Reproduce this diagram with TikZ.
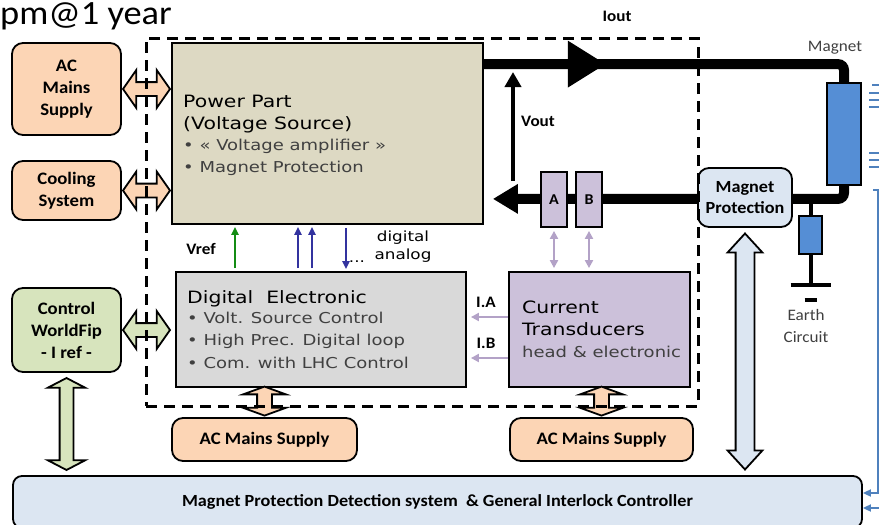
\documentclass[tikz,border=0pt]{standalone}
\usepackage{fontspec}
\setmainfont{Carlito}[FakeStretch=1.07]
\newfontfamily\verd{DejaVu Sans}[FakeStretch=1.2]
\usetikzlibrary{shapes.arrows,arrows.meta,calc,positioning,decorations.markings,backgrounds}

\definecolor{peach}{HTML}{FCD5B5}
\definecolor{pwrtan}{HTML}{DDD9C3}
\definecolor{digigray}{HTML}{D9D9D9}
\definecolor{ctlilac}{HTML}{CCC1DA}
\definecolor{ctrlgreen}{HTML}{D7E4BD}
\definecolor{protblue}{HTML}{DCE6F2}
\definecolor{coilblue}{HTML}{558ED5}
\definecolor{lavarrow}{HTML}{B3A2C7}
\definecolor{sigblue}{HTML}{33339F}
\definecolor{sigreen}{HTML}{148C14}
\definecolor{edgeblue}{HTML}{4F81BD}
\definecolor{bullgray}{HTML}{404040}

\tikzset{
    box/.style={draw, line width=1.8pt, inner sep=0pt},
    sidebox/.style={box, rounded corners=11pt, align=center, font=\bfseries\fontsize{17.5}{22}\selectfont},
    boxhead/.style={anchor=north west, inner sep=0pt, align=left, font=\verd\fontsize{17}{22}\selectfont},
    boxlist/.style={boxhead, text=bullgray, font=\verd\fontsize{15}{22}\selectfont},
    sigtag/.style={inner sep=0pt, font=\bfseries\fontsize{16}{18}\selectfont},
    plain/.style={inner sep=0pt, align=center, text=bullgray, font=\fontsize{16}{22}\selectfont},
    blockarr/.style={double arrow, draw, line width=1.8pt},
    convframe/.style={draw, line width=3pt, dash pattern=on 11pt off 7pt, inner sep=0pt},
    powerline/.style={line width=10pt},
    wire/.style={line width=4pt},
    sig/.style={line width=2.4pt, -{Triangle[length=8pt,width=7pt]}, shorten <=3pt, shorten >=2pt},
    lav/.style={line width=2.4pt, lavarrow, {Triangle[length=8pt,width=8pt]}-{Triangle[length=8pt,width=8pt]}, shorten <=3pt, shorten >=3pt},
    lavone/.style={line width=2.4pt, lavarrow, -{Triangle[length=8pt,width=8pt]}, shorten >=4pt},
    edgeline/.style={line width=1.8pt, edgeblue}
}

\begin{document}
\begin{tikzpicture}[x=1pt, y=-1pt]
  \useasboundingbox (0,0) rectangle (879,525);

  \node[anchor=base west, inner sep=0pt, font=\fontsize{34}{36}\selectfont] (year) at (0,24) {pm@1 year};

  % converter blocks
  \node[box, fill=pwrtan, minimum width=311pt, minimum height=181pt] (power) at (327.5,133.5) {};
  \node[box, fill=digigray, minimum width=290pt, minimum height=115pt] (digital) at (321,329.5) {};
  \node[box, fill=ctlilac, minimum width=181pt, minimum height=115pt] (transd) at (599.5,329.5) {};

  \node[boxhead] (powertxt) at (183,94.6) {Power Part\\(Voltage Source)};
  \node[boxlist] (powerlist) at (183,138.6) {• « Voltage amplifier »\\• Magnet Protection};
  \node[boxhead] (digitxt) at (187,290) {Digital~ Electronic};
  \node[boxlist, font=\verd\fontsize{15}{22.5}\selectfont] (digilist) at (187,311.6) {• Volt. Source Control\\• High Prec. Digital loop\\• Com. with LHC Control};
  \node[boxhead] (transdtxt) at (522,300.5) {Current\\Transducers};
  \node[boxlist] (transdlist) at (522,345.6) {head \& electronic};

  % outside blocks
  \node[sidebox, fill=peach, minimum width=109pt, minimum height=92pt] (acmains) at (66.5,89) {AC\\Mains\\Supply};
  \node[sidebox, fill=peach, minimum width=109pt, minimum height=59pt] (cooling) at (66.5,190.5) {Cooling\\System};
  \node[sidebox, fill=ctrlgreen, minimum width=109pt, minimum height=84pt] (control) at (66.5,330) {Control\\WorldFip\\- I ref -};
  \node[sidebox, fill=peach, minimum width=185pt, minimum height=43pt] (acdigi) at (264.5,439.5) {AC Mains Supply};
  \node[sidebox, fill=peach, minimum width=183pt, minimum height=43pt] (actransd) at (601.5,439.5) {AC Mains Supply};
  \node[sidebox, fill=protblue, minimum width=849pt, minimum height=52pt, rounded corners=9pt, font=\bfseries\fontsize{17}{20}\selectfont] (interlock) at (437.5,502) {Magnet Protection Detection system \ \& General Interlock Controller};
  \node[sidebox, fill=protblue, minimum width=94pt, minimum height=59pt, font=\bfseries\fontsize{17}{21}\selectfont] (protect) at (745,197.5) {Magnet\\Protection};

  % load circuit
  \node[box, fill=ctlilac, minimum width=26pt, minimum height=55pt, font=\bfseries\fontsize{15}{18}\selectfont] (headA) at (554,199.5) {A};
  \node[box, fill=ctlilac, minimum width=26pt, minimum height=55pt, font=\bfseries\fontsize{15}{18}\selectfont] (headB) at (589,199.5) {B};
  \node[box, fill=coilblue, minimum width=34pt, minimum height=102pt] (magnet) at (844,134) {};
  \node[box, fill=coilblue, minimum width=23pt, minimum height=38pt] (earthres) at (810.5,235) {};

  \begin{scope}[on background layer]
    \coordinate (iout) at ($(power.north east)+(0,22)$);
    \coordinate (iret) at ($(power.south east)+(9,-26)$);
    \draw[powerline, rounded corners=6pt, postaction={decorate, decoration={markings, mark=at position 122pt with {\arrow{Triangle[length=38pt,width=44pt]}}}}] (iout) -- (iout -| magnet.north) -- (magnet.north);
    \draw[powerline, rounded corners=6pt, -{Triangle[length=25pt,width=28pt]}] (magnet.south) -- (magnet.south |- iret) -- (iret);
    \draw[wire] (earthres.north |- iret) -- (earthres.north);
  \end{scope}

  \draw[wire] (earthres.south) -- ++(0,30) coordinate (gnd);
  \draw[wire] ($(gnd)+(-20,0)$) -- ($(gnd)+(20,0)$);
  \draw[wire] ($(gnd)+(-6,15)$) -- ($(gnd)+(6,15)$);
  \node[plain] (earthlbl) at (806,326) {Earth\\Circuit};
  \node[plain] (magnetlbl) at (835,48) {Magnet};

  \coordinate (voutlo) at (513,181);
  \coordinate (vouthi) at (513,72);
  \draw[wire, -{Triangle[length=15pt,width=16pt]}] (voutlo) -- (vouthi);
  \node[sigtag] (voutlbl) at (538,121) {Vout};
  \node[sigtag] (ioutlbl) at (617,16) {Iout};

  % references and signals
  \coordinate (vrefx) at (235,0);
  \coordinate (digx) at (298,0);
  \coordinate (digy) at (312,0);
  \coordinate (anax) at (346,0);
  \draw[sig, sigreen] (vrefx |- digital.north) -- (vrefx |- power.south);
  \draw[sig, sigblue] (digx |- digital.north) -- (digx |- power.south);
  \draw[sig, sigblue] (digy |- digital.north) -- (digy |- power.south);
  \draw[sig, sigblue] (anax |- power.south) -- (anax |- digital.north);
  \node[sigtag] (vreflbl) at (201,249) {Vref};
  \node[anchor=base, inner sep=0pt, font=\verd\fontsize{14}{16}\selectfont] (dots) at (357,262) {...};
  \node[align=center, inner sep=0pt, font=\verd\fontsize{14}{18}\selectfont] (sigtypes) at (403,247) {digital\\analog};

  \draw[lav] (headA.south) -- (headA.south |- transd.north);
  \draw[lav] (headB.south) -- (headB.south |- transd.north);
  \draw[lavone] ($(transd.west)+(0,-12.5)$) -- ($(digital.east)+(0,-12.5)$);
  \draw[lavone] ($(transd.west)+(0,28.5)$) -- ($(digital.east)+(0,28.5)$);
  \node[sigtag] (ialbl) at (486,302) {I.A};
  \node[sigtag] (iblbl) at (486,343) {I.B};

  % block arrows
  \node[blockarr, fill=peach, inner sep=6pt, minimum height=47pt, double arrow head extend=12pt, double arrow tip angle=110] (acarr) at ($(acmains.east)!0.5!(acmains.east -| power.west)$) {};
  \node[blockarr, fill=peach, inner sep=6pt, minimum height=47pt, double arrow head extend=12pt, double arrow tip angle=110] (coolarr) at ($(cooling.east)!0.5!(cooling.east -| power.west)$) {};
  \node[blockarr, fill=ctrlgreen, inner sep=6pt, minimum height=47pt, double arrow head extend=12pt, double arrow tip angle=110] (ctrlarr) at ($(control.east)!0.5!(control.east -| power.west)$) {};
  \node[blockarr, fill=ctrlgreen, shape border rotate=90, inner sep=6pt, minimum height=92pt, double arrow head extend=12pt, double arrow tip angle=125] (busarr) at ($(control.south)!0.5!(control.south |- interlock.north)$) {};
  \node[blockarr, fill=protblue, shape border rotate=90, inner sep=8.5pt, minimum height=236pt, double arrow head extend=8pt, double arrow tip angle=85] (protarr) at ($(protect.south)!0.5!(protect.south |- interlock.north)$) {};
  \node[blockarr, fill=peach, shape border rotate=90, inner sep=6.5pt, minimum height=29pt, double arrow head extend=14pt, double arrow tip angle=140] (acdigiarr) at ($(acdigi.north)+(0,-16)$) {};
  \node[blockarr, fill=peach, shape border rotate=90, inner sep=6.5pt, minimum height=29pt, double arrow head extend=14pt, double arrow tip angle=140] (actransdarr) at ($(actransd.north)+(0,-16)$) {};

  \node[convframe, minimum width=552pt, minimum height=368pt] (conv) at (422,222) {};

  % interlock feedback at the edge
  \draw[edgeline] (872,85) -- (879,85);
  \draw[edgeline] (869,93) -- (879,93);
  \draw[edgeline] (869,100) -- (879,100);
  \draw[edgeline] (869,107) -- (879,107);
  \draw[edgeline] (869,153) -- (879,153);
  \draw[edgeline] (869,160) -- (879,160);
  \draw[edgeline] (869,167) -- (879,167);
  \coordinate (fbtop) at (873,190);
  \coordinate (fbA) at (878,493);
  \coordinate (fbB) at (881,508);
  \draw[edgeline, -{Triangle[length=8pt,width=7pt]}] (fbtop) -- (fbtop -| fbA) -- (fbA) -- (interlock.east |- fbA);
  \draw[edgeline, -{Triangle[length=8pt,width=7pt]}] (fbB) -- (interlock.east |- fbB);
\end{tikzpicture}
\end{document}
